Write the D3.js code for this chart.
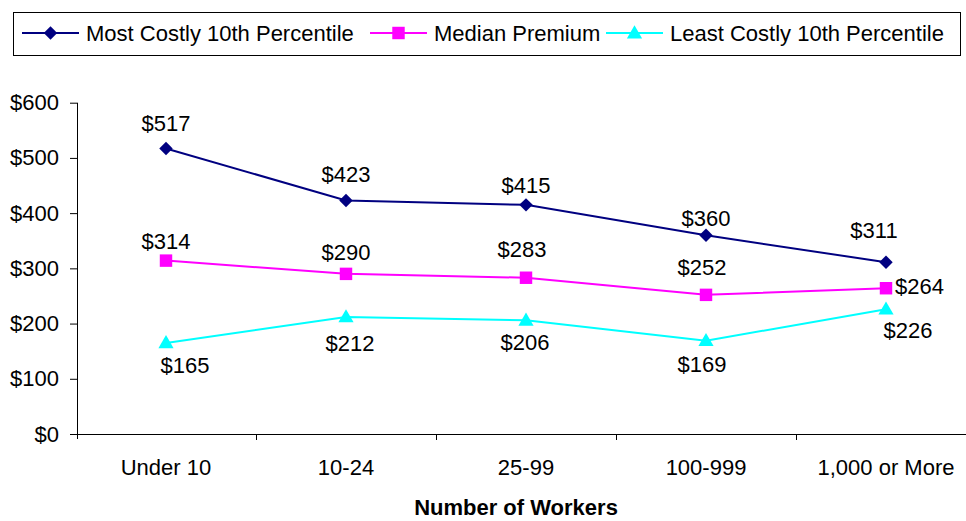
<!DOCTYPE html>
<html>
<head>
<meta charset="utf-8">
<script src="https://cdn.jsdelivr.net/npm/d3@7"></script>
<style>
  body { margin: 0; background: #fff; }
  text { font-family: "Liberation Sans", Arial, sans-serif; }
</style>
</head>
<body>
<div id="chart"></div>
<script>
'use strict';

var categories = ["Under 10", "10-24", "25-99", "100-999", "1,000 or More"];
var mostCostly = [517, 423, 415, 360, 311];
var median = [314, 290, 283, 252, 264];
var leastCostly = [165, 212, 206, 169, 226];
var yTicks = [0, 100, 200, 300, 400, 500, 600];

var myChart = {};
myChart.width = 966;
myChart.height = 521;

// label nudges (dx, dy of baseline from the point), as hand-placed in the original
myChart.nudges = [
    [[0, -18], [0, -18], [0, -12], [0, -9], [-12, -24]],
    [[0, -12], [0, -14], [-4, -21], [-4, -20], [9, 6]],
    [[19, 30], [4, 34], [-1, 30], [-4, 31], [22, 29]]
];

myChart.series = [
    { name: "Most Costly 10th Percentile", values: mostCostly, color: "#000080", shape: "diamond" },
    { name: "Median Premium", values: median, color: "#FF00FF", shape: "square" },
    { name: "Least Costly 10th Percentile", values: leastCostly, color: "#00FFFF", shape: "triangle" }
];

myChart.x = d3.scaleBand().domain(categories).range([76, 976]);
myChart.y = d3.scaleLinear().domain([0, 600]).range([434, 102.7]);

myChart.symbol = function(shape){
    if (shape === "diamond") return d3.symbol().type(d3.symbolDiamond2).size(115)();
    if (shape === "square") return d3.symbol().type(d3.symbolSquare).size(155)();
    return d3.symbol().type(d3.symbolTriangle).size(100)();
};

myChart.run = function(){
    var svg = d3.select("#chart").append("svg")
        .attr("width", myChart.width)
        .attr("height", myChart.height);

    var x = myChart.x, y = myChart.y;
    var cx = function(d, i){ return x(categories[i]) + x.bandwidth() / 2; };

    // legend
    var legend = svg.append("g");
    legend.append("rect")
        .attr("x", 13.5).attr("y", 12.5)
        .attr("width", 947).attr("height", 43)
        .attr("fill", "#fff").attr("stroke", "#000").attr("stroke-width", 1);
    var legendX = [22, 370, 606];
    myChart.series.forEach(function(s, i){
        var g = legend.append("g").attr("transform", "translate(" + legendX[i] + ",33)");
        g.append("line").attr("x1", 0).attr("x2", 57).attr("y1", 0).attr("y2", 0)
            .attr("stroke", s.color).attr("stroke-width", 2);
        g.append("path").attr("d", myChart.symbol(s.shape))
            .attr("transform", "translate(28.5," + (s.shape === "triangle" ? 1 : 0) + ")")
            .attr("fill", s.color);
        g.append("text").attr("x", 64).attr("y", 8)
            .attr("font-size", "22px").attr("fill", "#000").text(s.name);
    });

    // y axis
    var yAxis = svg.append("g").attr("transform", "translate(77,0)")
        .call(d3.axisLeft(y).tickValues(yTicks).tickSize(7).tickPadding(11)
            .tickFormat(function(d){ return "$" + d; }));
    yAxis.select(".domain").attr("d", "M0.5," + y(600) + "V" + (y(0) + 5));
    yAxis.selectAll("line").attr("stroke", "#000");
    yAxis.selectAll("text").attr("font-size", "22px").attr("fill", "#000")
        .attr("font-family", "Liberation Sans, Arial, sans-serif");

    // x axis
    var xAxis = svg.append("g").attr("transform", "translate(0," + y(0) + ")");
    xAxis.append("line").attr("x1", 70).attr("x2", 966).attr("y1", 0.5).attr("y2", 0.5)
        .attr("stroke", "#000");
    xAxis.selectAll(".tk").data(categories.slice(1)).enter().append("line")
        .attr("x1", function(d){ return x(d) + 0.5; })
        .attr("x2", function(d){ return x(d) + 0.5; })
        .attr("y1", 0).attr("y2", 6).attr("stroke", "#000");
    xAxis.selectAll(".cat").data(categories).enter().append("text")
        .attr("x", function(d){ return x(d) + x.bandwidth() / 2; })
        .attr("y", 41).attr("text-anchor", "middle")
        .attr("font-size", "22px").attr("fill", "#000").text(function(d){ return d; });

    svg.append("text").attr("x", 516).attr("y", 515).attr("text-anchor", "middle")
        .attr("font-size", "22px").attr("font-weight", "bold").attr("fill", "#000")
        .text("Number of Workers");

    // series
    var line = d3.line().x(cx).y(function(d){ return y(d); });
    myChart.series.forEach(function(s, si){
        svg.append("path").datum(s.values).attr("d", line)
            .attr("fill", "none").attr("stroke", s.color).attr("stroke-width", 2);
        svg.selectAll(".m" + si).data(s.values).enter().append("path")
            .attr("d", myChart.symbol(s.shape))
            .attr("transform", function(d, i){ return "translate(" + cx(d, i) + "," + (y(d) + (s.shape === "triangle" ? 1 : 0)) + ")"; })
            .attr("fill", s.color);
        svg.selectAll(".l" + si).data(s.values).enter().append("text")
            .attr("x", function(d, i){ return cx(d, i) + myChart.nudges[si][i][0]; })
            .attr("y", function(d, i){ return y(d) + myChart.nudges[si][i][1]; })
            .attr("text-anchor", function(d, i){ return (si === 1 && i === 4) ? "start" : "middle"; })
            .attr("font-size", "22px").attr("fill", "#000")
            .text(function(d){ return "$" + d; });
    });
};

window.onload = myChart.run;
</script>
</body>
</html>
